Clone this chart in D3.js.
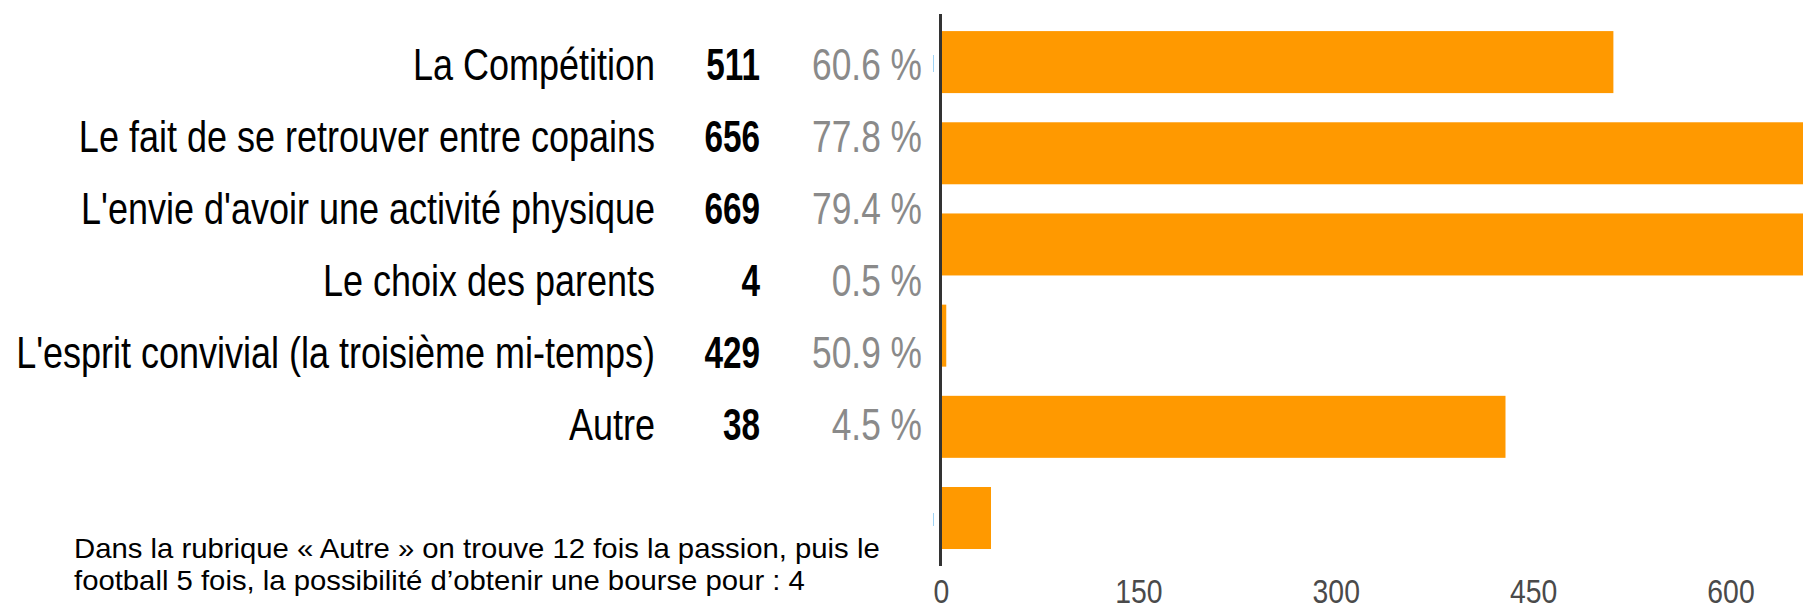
<!DOCTYPE html>
<html>
<head>
<meta charset="utf-8">
<script src="https://cdn.jsdelivr.net/npm/d3@7/dist/d3.min.js"></script>
<style>
  html, body { margin: 0; padding: 0; background: #fff; }
  svg { display: block; font-family: "Liberation Sans", Arial, sans-serif; }
</style>
</head>
<body>
<svg id="chart" width="1803" height="611"></svg>
<script>
const categories = [
  "La Compétition",
  "Le fait de se retrouver entre copains",
  "L'envie d'avoir une activité physique",
  "Le choix des parents",
  "L'esprit convivial (la troisième mi-temps)",
  "Autre"
];
const counts = [511, 656, 669, 4, 429, 38];
const percents = [60.6, 77.8, 79.4, 0.5, 50.9, 4.5];
const tickValues = [0, 150, 300, 450, 600];
const noteLines = [
  "Dans la rubrique « Autre » on trouve 12 fois la passion, puis le",
  "football 5 fois, la possibilité d’obtenir une bourse pour : 4"
];

const svg = d3.select("#chart");

const x = d3.scaleLinear().domain([0, 600]).range([941, 1730.5]);
const yBar = d3.scaleBand().domain(categories).range([16.5, 563.6])
  .paddingInner(0.32).paddingOuter(0.16);
const yLab = d3.scalePoint().domain(categories).range([80, 439.5]);

// bars
svg.append("g").selectAll("rect").data(categories).join("rect")
  .attr("x", x(0))
  .attr("y", d => yBar(d))
  .attr("width", (d, i) => Math.max(0, x(counts[i]) - x(0)))
  .attr("height", yBar.bandwidth())
  .attr("fill", "#ff9900");

// vertical axis line
svg.append("line")
  .attr("x1", 940.5).attr("x2", 940.5)
  .attr("y1", 14).attr("y2", 566)
  .attr("stroke", "#333").attr("stroke-width", 3);

// small stray marks
svg.append("g").selectAll("line").data([[55, 72], [513, 526]]).join("line")
  .attr("x1", 933.5).attr("x2", 933.5)
  .attr("y1", d => d[0]).attr("y2", d => d[1])
  .attr("stroke", "#9fd3f5").attr("stroke-width", 1);

// category labels
const labG = svg.append("g");
labG.selectAll("text.cat").data(categories).join("text")
  .attr("class", "cat")
  .attr("transform", d => `translate(655,${yLab(d)}) scale(0.80,1)`)
  .attr("text-anchor", "end")
  .attr("font-size", 45)
  .attr("fill", "#000")
  .text(d => d);

labG.selectAll("text.cnt").data(categories).join("text")
  .attr("class", "cnt")
  .attr("transform", d => `translate(760,${yLab(d)}) scale(0.74,1)`)
  .attr("text-anchor", "end")
  .attr("font-size", 45)
  .attr("font-weight", "bold")
  .attr("fill", "#000")
  .text((d, i) => counts[i]);

labG.selectAll("text.pct").data(categories).join("text")
  .attr("class", "pct")
  .attr("transform", d => `translate(922,${yLab(d)}) scale(0.785,1)`)
  .attr("text-anchor", "end")
  .attr("font-size", 45)
  .attr("fill", "#8a8a8a")
  .text((d, i) => d3.format(".1f")(percents[i]) + " %");

// bottom axis
const xAxis = d3.axisBottom(x).tickValues(tickValues).tickSize(0).tickPadding(0);
const ax = svg.append("g").attr("transform", "translate(0,603)").call(xAxis);
ax.select(".domain").remove();
ax.selectAll("text")
  .attr("y", 0).attr("dy", null)
  .attr("transform", "scale(0.86,1)")
  .attr("font-family", "Liberation Sans, Arial, sans-serif")
  .attr("font-size", 33)
  .attr("fill", "#4a4a4a");

// note
svg.append("g").selectAll("text").data(noteLines).join("text")
  .attr("transform", (d, i) => `translate(74,${558 + i * 32}) scale(1.085,1)`)
  .attr("font-size", 27)
  .attr("fill", "#000")
  .text(d => d);
</script>
</body>
</html>
